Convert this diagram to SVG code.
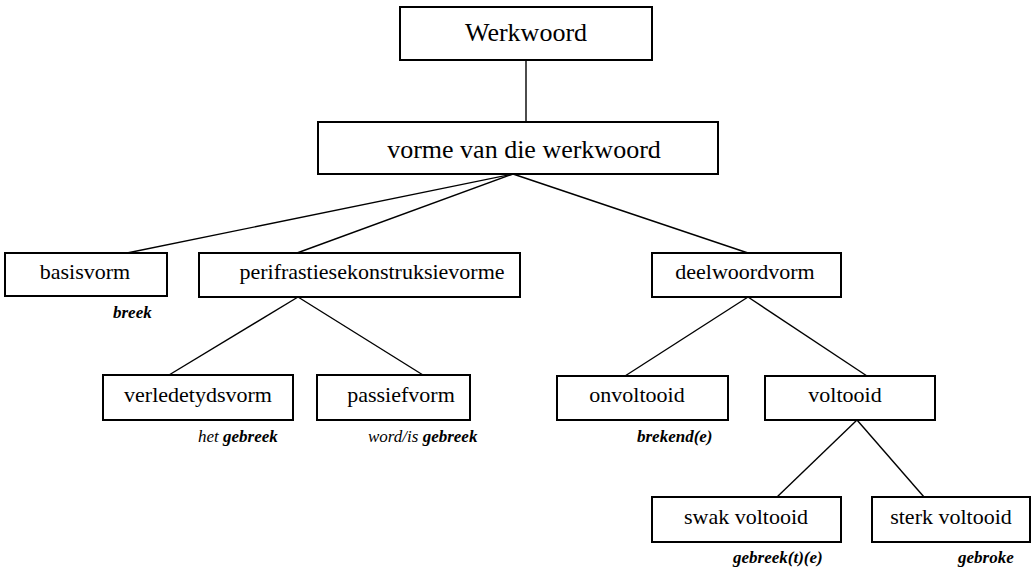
<svg xmlns="http://www.w3.org/2000/svg" width="1035" height="569" viewBox="0 0 1035 569">
<style>
text{font-family:"Liberation Serif","DejaVu Serif","Times New Roman",serif;fill:#000}
.box{fill:#fff;stroke:#000;stroke-width:2}
.lbl{font-size:22px;text-anchor:middle}
.top{font-size:26px}
.sub{font-size:17px;font-style:italic}
.b{font-weight:bold}
.con line{stroke:#000;stroke-width:1.4}
</style>
<rect width="1035" height="569" fill="#fff"/>
<g class="con" id="connectors">
<line x1="526" y1="60" x2="526" y2="122"/>
<line x1="513" y1="174" x2="127" y2="253"/>
<line x1="513" y1="174" x2="297" y2="253"/>
<line x1="513" y1="174" x2="748" y2="253"/>
<line x1="298" y1="297" x2="169" y2="375"/>
<line x1="298" y1="297" x2="423" y2="375"/>
<line x1="748" y1="297" x2="625" y2="376"/>
<line x1="748" y1="297" x2="867" y2="376"/>
<line x1="857" y1="420" x2="777" y2="497"/>
<line x1="857" y1="420" x2="924" y2="497"/>
</g>
<g id="werkwoord"><rect class="box" x="400" y="7" width="252" height="53"/><text class="lbl top" x="526" y="41" font-family="Liberation Serif, serif">Werkwoord</text></g>
<g id="vorme"><rect class="box" x="318" y="122" width="400" height="52"/><text class="lbl top" x="524" y="158">vorme van die werkwoord</text></g>
<g id="basisvorm"><rect class="box" x="5" y="253" width="162" height="43"/><text class="lbl" x="85" y="279">basisvorm</text><text class="sub b" x="113" y="318">breek</text></g>
<g id="perifrastiese"><rect class="box" x="199" y="253" width="321" height="44"/><text class="lbl" x="372" y="279">perifrastiesekonstruksievorme</text></g>
<g id="deelwoordvorm"><rect class="box" x="652" y="253" width="189" height="44"/><text class="lbl" x="745" y="279">deelwoordvorm</text></g>
<g id="verledetydsvorm"><rect class="box" x="103" y="375" width="190" height="45"/><text class="lbl" x="198" y="402">verledetydsvorm</text><text class="sub" x="198" y="442">het <tspan class="b">gebreek</tspan></text></g>
<g id="passiefvorm"><rect class="box" x="317" y="375" width="153" height="45"/><text class="lbl" x="401" y="402">passiefvorm</text><text class="sub" x="368" y="442">word/is <tspan class="b">gebreek</tspan></text></g>
<g id="onvoltooid"><rect class="box" x="557" y="376" width="171" height="44"/><text class="lbl" x="637" y="402">onvoltooid</text><text class="sub b" x="637" y="442">brekend(e)</text></g>
<g id="voltooid"><rect class="box" x="765" y="376" width="170" height="44"/><text class="lbl" x="845" y="402">voltooid</text></g>
<g id="swak"><rect class="box" x="652" y="497" width="189" height="45"/><text class="lbl" x="746" y="524">swak voltooid</text><text class="sub b" x="733" y="563">gebreek(t)(e)</text></g>
<g id="sterk"><rect class="box" x="872" y="497" width="158" height="45"/><text class="lbl" x="951" y="524">sterk voltooid</text><text class="sub b" x="958" y="563">gebroke</text></g>
</svg>
